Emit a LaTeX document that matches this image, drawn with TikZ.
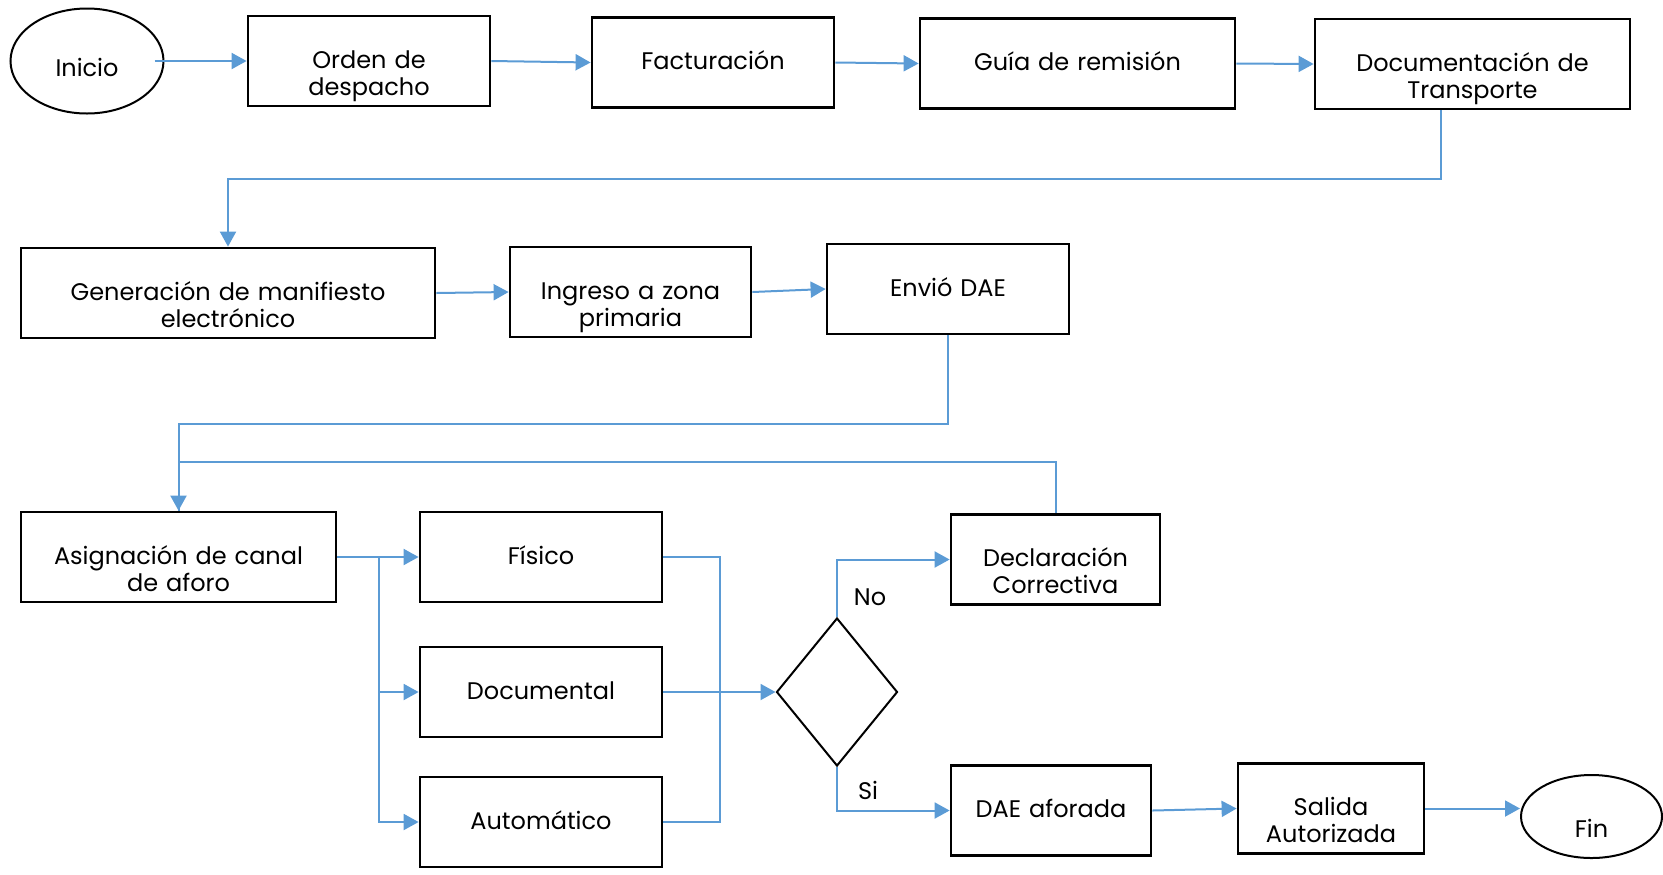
\documentclass[tikz,border=0pt]{standalone}
\usepackage{fontspec}
\setmainfont{Poppins}
\usetikzlibrary{arrows.meta,shapes.geometric}

\definecolor{azul}{RGB}{91,155,213}

\tikzset{
  texto/.style={font=\fontsize{12}{13.5}\selectfont},
  caja/.style={texto, draw, rectangle, line width=1.4pt, inner xsep=4pt,
    minimum height=45pt, align=center, text height=9pt, text depth=2pt},
  extremo/.style={texto, draw, ellipse, line width=1pt, inner sep=0pt,
    text height=17pt, text depth=2pt},
  decision/.style={draw, diamond, line width=1pt, inner sep=0pt,
    minimum width=60.5pt, minimum height=74pt},
  linea/.style={draw=azul, line width=1pt},
  flecha/.style={linea, -{Triangle[length=7.5pt,width=8pt]}}
}

\begin{document}
\begin{tikzpicture}[x=0.5pt,y=-0.5pt]
	\useasboundingbox (0,0) rectangle (1663,874);
	% primera fila
	\node[extremo, minimum width=76.5pt, minimum height=52.5pt] (inicio) at (87,61) {Inicio};
	\node[caja, text width=113pt] (orden) at (369,61) {Orden de\\despacho};
	\node[caja, text width=113pt] (factura) at (713,62.5) {Facturación};
	\node[caja, text width=149.5pt] (guia) at (1077.5,63.5) {Guía de remisión};
	\node[caja, text width=149.5pt] (transporte) at (1472.5,64) {Documentación de\\Transporte};
	% segunda fila
	\node[caja, text width=199pt] (manifiesto) at (228,293) {Generación de manifiesto\\electrónico};
	\node[caja, text width=112.5pt] (ingreso) at (630.5,292) {Ingreso a zona\\primaria};
	\node[caja, text width=113pt] (envio) at (948,289) {Envió DAE};
	% canales de aforo
	\node[caja, text width=149.5pt] (canal) at (178.5,557) {Asignación de canal\\de aforo};
	\node[caja, text width=113pt] (fisico) at (541,557) {Físico};
	\node[caja, text width=113pt] (documental) at (541,692) {Documental};
	\node[caja, text width=113pt] (automatico) at (541,822) {Automático};
	\node[decision] (dec) at (837,692) {};
	\node[caja, text width=96.5pt] (correctiva) at (1055.5,559.5) {Declaración\\Correctiva};
	\node[caja, text width=92pt] (aforada) at (1051,810.5) {DAE aforada};
	\node[caja, text width=85pt] (salida) at (1331,808.5) {Salida\\Autorizada};
	\node[extremo, minimum width=70.5pt, minimum height=41.5pt, text height=23pt] (fin) at (1591.5,816.5) {Fin};
	\node[texto] (no) at (870,597) {No};
	\node[texto] (si) at (868,790) {Si};

	\coordinate (r1) at ([xshift=21pt]canal.east);
	\coordinate (r2) at ([xshift=28.5pt]fisico.east);

	\draw[flecha] ([xshift=-5pt]inicio.east) -- (orden.west);
	\draw[flecha] (orden.east) -- (factura.west);
	\draw[flecha] (factura.east) -- (guia.west);
	\draw[flecha] (guia.east) -- (transporte.west);
	\draw[flecha] ([xshift=-16pt]transporte.south) -- ++(0,69) -| (manifiesto.north);
	\draw[flecha] (manifiesto.east) -- (ingreso.west);
	\draw[flecha] (ingreso.east) -- (envio.west);
	\draw[flecha] (envio.south) -- ++(0,89) -| (canal.north);
	\draw[linea] (correctiva.north) -- ++(0,-51) -| (canal.north);
	\draw[flecha] (canal.east) -- (fisico.west);
	\draw[flecha] (r1) |- (documental.west);
	\draw[flecha] (r1) |- (automatico.west);
	\draw[linea] (fisico.east) -| (r2) |- (automatico.east);
	\draw[flecha] (documental.east) -- (dec.west);
	\draw[flecha] (dec.north) |- (correctiva.west);
	\draw[flecha] (dec.south) |- (aforada.west);
	\draw[flecha] (aforada.east) -- (salida.west);
	\draw[flecha] (salida.east) -- (salida.east -| fin.west);
\end{tikzpicture}
\end{document}
